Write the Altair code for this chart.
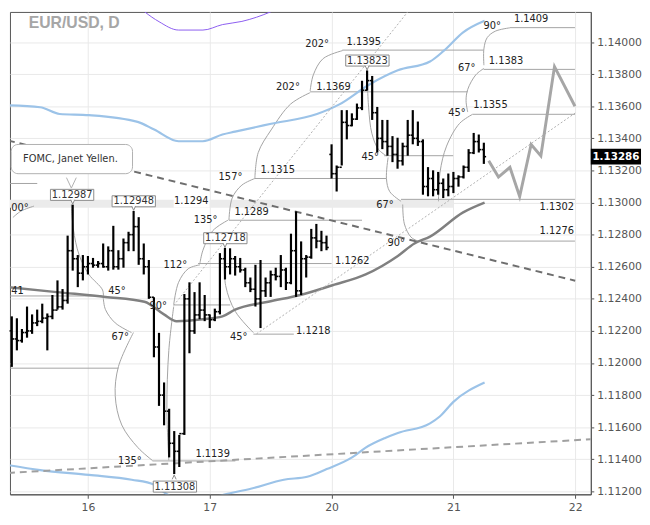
import json
import altair as alt
import pandas as pd

# ---------------- text / axis values ----------------
title_text = "EUR/USD, D"
day_labels = ["16", "17", "20", "21", "22"]
day_positions = [0, 1, 2, 3, 4]
y_tick_values = [1.112, 1.114, 1.116, 1.118, 1.120, 1.122, 1.124, 1.126,
                 1.128, 1.130, 1.132, 1.134, 1.136, 1.138, 1.140]

# ---------------- hourly bars (x = trading-day index + hour/24) ----------------
highs_15 = [1.12291, 1.12279, 1.12212, 1.12352, 1.12303, 1.12333, 1.12370, 1.12309,
            1.12424, 1.12515, 1.12461, 1.12794, 1.12987, 1.12673, 1.12673]
lows_15 = [1.11976, 1.12079, 1.12127, 1.12158, 1.12182, 1.12230, 1.12248, 1.12079,
           1.12273, 1.12333, 1.12333, 1.12370, 1.12576, 1.12473, 1.12515]
closes_15 = [1.12150, 1.12140, 1.12190, 1.12200, 1.12250, 1.12260, 1.12280, 1.12290,
             1.12330, 1.12350, 1.12390, 1.12700, 1.12650, 1.12560, 1.12600]

highs_16 = [1.12667, 1.12655, 1.12636, 1.12745, 1.12727, 1.12855, 1.12703, 1.12776,
            1.12818, 1.12948, 1.12909, 1.12745, 1.12642, 1.12410, 1.12188, 1.11879,
            1.11715, 1.11576, 1.11552, 1.12430, 1.12503, 1.12442, 1.12503, 1.12424]
lows_16 = [1.12552, 1.12594, 1.12594, 1.12594, 1.12576, 1.12582, 1.12582, 1.12594,
           1.12697, 1.12697, 1.12612, 1.12552, 1.12400, 1.12036, 1.11733, 1.11612,
           1.11412, 1.11308, 1.11352, 1.11552, 1.12061, 1.12182, 1.12273, 1.12261]
closes_16 = [1.12620, 1.12610, 1.12620, 1.12600, 1.12700, 1.12600, 1.12650, 1.12750,
             1.12800, 1.12850, 1.12650, 1.12600, 1.12410, 1.12100, 1.11800, 1.11700,
             1.11500, 1.11450, 1.11560, 1.12400, 1.12200, 1.12300, 1.12330, 1.12300]

highs_17 = [1.12303, 1.12339, 1.12685, 1.12718, 1.12715, 1.12667, 1.12655, 1.12594,
            1.12533, 1.12612, 1.12642, 1.12533, 1.12576, 1.12594, 1.12673, 1.12594,
            1.12806, 1.12945, 1.12758, 1.12673, 1.12836, 1.12867, 1.12824, 1.12794]
lows_17 = [1.12218, 1.12261, 1.12303, 1.12521, 1.12552, 1.12545, 1.12564, 1.12473,
           1.12442, 1.12352, 1.12218, 1.12412, 1.12412, 1.12515, 1.12473, 1.12455,
           1.12491, 1.12412, 1.12424, 1.12533, 1.12650, 1.12715, 1.12697, 1.12703]
closes_17 = [1.12270, 1.12320, 1.12650, 1.12600, 1.12650, 1.12600, 1.12580, 1.12500,
             1.12460, 1.12400, 1.12450, 1.12500, 1.12550, 1.12540, 1.12580, 1.12500,
             1.12700, 1.12450, 1.12650, 1.12660, 1.12780, 1.12760, 1.12750, 1.12720]

highs_20 = [1.13363, 1.13231, 1.13576, 1.13576, 1.13556, 1.13617, 1.13759, 1.13823,
            1.13789, 1.13596, 1.13515, 1.13515, 1.13414, 1.13404, 1.13373, 1.13515,
            1.13576, 1.13505, 1.13394, 1.13221, 1.13201, 1.13191, 1.13150, 1.13181]
lows_20 = [1.13150, 1.13069, 1.13231, 1.13394, 1.13475, 1.13515, 1.13576, 1.13698,
           1.13515, 1.13312, 1.13333, 1.13292, 1.13252, 1.13211, 1.13231, 1.13292,
           1.13363, 1.13353, 1.13049, 1.13039, 1.13039, 1.13049, 1.13028, 1.13039]
closes_20 = [1.13180, 1.13220, 1.13500, 1.13480, 1.13520, 1.13590, 1.13700, 1.13760,
             1.13560, 1.13400, 1.13380, 1.13350, 1.13300, 1.13260, 1.13350, 1.13420,
             1.13400, 1.13380, 1.13100, 1.13150, 1.13080, 1.13120, 1.13080, 1.13100]

highs_21 = [1.13191, 1.13170, 1.13231, 1.13333, 1.13434, 1.13424, 1.13373]
lows_21 = [1.13059, 1.13099, 1.13150, 1.13191, 1.13302, 1.13312, 1.13241]
closes_21 = [1.13150, 1.13160, 1.13220, 1.13310, 1.13380, 1.13330, 1.13286]

first_open = 1.12200
monday_open = 1.13300
last_price = 1.13286

# ---------------- indicator lines ----------------
ma_upper_t = [-0.656, -0.392, -0.232, 0.008, 0.408, 0.544, 0.744, 0.944, 1.104, 1.208,
              1.504, 1.88, 2.064, 2.304, 2.544, 2.808, 2.92, 3.08, 3.256]
ma_upper_p = [1.13606, 1.13594, 1.13552, 1.13545, 1.13503, 1.13455, 1.13382, 1.13382,
              1.13424, 1.13442, 1.13491, 1.13552, 1.13612, 1.13733, 1.13824, 1.13879,
              1.13945, 1.14061, 1.14133]
ma_lower_t = [-0.656, -0.392, 0.008, 0.36, 0.544, 0.648, 0.864, 1.128, 1.344, 1.608,
              1.8, 1.96, 2.168, 2.28, 2.44, 2.544, 2.808, 2.888, 3.0, 3.256]
ma_lower_p = [1.11364, 1.11333, 1.11303, 1.11273, 1.11242, 1.11182, 1.11133, 1.11182,
              1.11218, 1.11273, 1.11291, 1.11339, 1.11412, 1.11473, 1.11533, 1.11564,
              1.11624, 1.11667, 1.11758, 1.11879]
ma_gray_t = [-0.656, -0.256, 0.144, 0.464, 0.624, 0.728, 0.944, 1.104, 1.208, 1.48,
             1.744, 2.008, 2.28, 2.544, 2.68, 2.808, 3.08, 3.256]
ma_gray_p = [1.12473, 1.12442, 1.12412, 1.12382, 1.12303, 1.12261, 1.12273, 1.12291,
             1.12333, 1.12382, 1.12424, 1.12485, 1.12552, 1.12667, 1.12745, 1.12788,
             1.12939, 1.13000]
purple_t = [0.448, 0.464, 0.584, 0.744, 0.944, 1.104, 1.264, 1.504, 1.584]
purple_p = [1.14200, 1.14190, 1.14127, 1.14075, 1.14075, 1.14109, 1.14129, 1.14190, 1.14218]

forecast_t = [3.29, 3.37, 3.464, 3.544, 3.638, 3.718, 3.83, 3.998]
forecast_p = [1.13261, 1.13159, 1.13220, 1.13038, 1.13362, 1.13291, 1.13847, 1.13600]

trend_dark_t = [-0.656, 4.0]
trend_dark_p = [1.13387, 1.12513]
trend_light_t = [-0.656, 4.128]
trend_light_p = [1.11315, 1.11525]
dotted_a_t = [0.704, 2.632]
dotted_a_p = [1.12359, 1.14195]
dotted_b_t = [1.384, 4.0]
dotted_b_p = [1.12182, 1.13558]

# ---------------- horizontal levels ----------------
level_p = [1.1409, 1.1395, 1.1383, 1.1369, 1.1355, 1.13292, 1.1315, 1.13119, 1.1302,
           1.1289, 1.1276, 1.1262, 1.12418, 1.12362, 1.1218, 1.11968, 1.1139]
level_t1 = [3.464, 2.088, 3.248, 1.824, 3.158, 2.432, 1.370, -0.656, 2.570,
            1.158, 2.744, 0.904, -0.656, 0.704, 1.358, -0.656, 0.530]
level_t2 = [3.998, 3.248, 3.998, 3.118, 3.998, 2.998, 2.450, -0.416, 3.998,
            2.250, 3.998, 2.000, 0.118, 1.168, 1.690, 0.250, 1.210]

level_label_text = ["1.1409", "1.1395", "1.1383", "1.1369", "1.1355", "1.1315", "1.1294",
                    "1.1289", "1.1302", "1.1276", "1.1262", "1.1218", "1.1139"]
level_label_t = [3.638, 2.264, 3.432, 2.016, 3.304, 1.558, 0.848, 1.344, 3.848, 3.848,
                 2.170, 1.850, 1.024]
level_label_p = [1.14144, 1.14002, 1.13883, 1.13719, 1.13608, 1.13204, 1.13008, 1.12938,
                 1.12972, 1.12820, 1.12635, 1.12200, 1.11432]

# partial labels visible at the left edge
edge_label_text = ["41", "00°"]
edge_label_t = [-0.63, -0.63]
edge_label_p = [1.12448, 1.12964]

band_t = [-0.656, 2.998]
band_p = [1.12968, 1.13018]
band_label_box_t = [0.704, 0.998]
band_label_box_p = [1.12970, 1.13040]

angle_text = ["90°", "202°", "202°", "67°", "45°", "157°", "135°", "45°", "67°", "90°",
              "112°", "45°", "90°", "67°", "45°", "135°"]
angle_t = [3.318, 1.882, 1.642, 3.110, 3.030, 1.170, 0.966, 2.318, 2.438, 2.530,
           0.718, 0.238, 0.576, 0.264, 1.238, 0.344]
angle_p = [1.14099, 1.13988, 1.13719, 1.13841, 1.13558, 1.13159, 1.12891, 1.13281,
           1.12982, 1.12750, 1.12608, 1.12447, 1.12356, 1.12159, 1.12159, 1.11392]

box_text = ["1.12987", "1.12948", "1.12718", "1.13823", "1.11308"]
box_t = [-0.130, 0.376, 1.128, 2.294, 0.714]
box_p = [1.13048, 1.13008, 1.12778, 1.13885, 1.11230]
ptr_t = [-0.125, 0.375, 1.125, 2.2917, 0.708]
ptr_p = [1.13003, 1.12964, 1.12733, 1.13839, 1.11290]
ptr_dir = ["down", "down", "down", "down", "up"]

callout_text = "FOMC, Janet Yellen."
callout_t = [-0.630, 0.366]
callout_p = [1.13180, 1.13362]
callout_text_pos = (-0.144, 1.13273)
callout_ptr_pos = (-0.136, 1.13121)

# ---------------- Gann-style arcs ----------------
arcs = [
    ([-0.136, -0.12, -0.072, 0.008, 0.12, 0.1264], [1.12988, 1.12836, 1.12673, 1.12552, 1.12455, 1.12402]),
    ([0.1264, 0.144, 0.224, 0.3576], [1.12402, 1.12333, 1.12250, 1.12190]),
    ([0.3736, 0.2504, 0.224, 0.2776, 0.4104, 0.5304], [1.12190, 1.11978, 1.11796, 1.11614, 1.11473, 1.11392]),
    ([0.664, 0.648, 0.664, 0.704], [1.11394, 1.11715, 1.12079, 1.12352]),
    ([0.704, 0.744, 0.824, 0.920], [1.12364, 1.12503, 1.12588, 1.12612]),
    ([0.92, 0.944, 1.024, 1.152], [1.12624, 1.12703, 1.12824, 1.12891]),
    ([1.1576, 1.184, 1.264, 1.3704], [1.12891, 1.13028, 1.13109, 1.13150]),
    ([1.3704, 1.3976, 1.504, 1.664, 1.824], [1.13150, 1.13311, 1.13453, 1.13614, 1.13685]),
    ([1.824, 1.8504, 1.9304, 2.0904], [1.13695, 1.13796, 1.13897, 1.13947]),
    ([2.2904, 2.304, 2.3304, 2.384, 2.4504], [1.13826, 1.13594, 1.13432, 1.13332, 1.13291]),
    ([2.464, 2.4504, 2.4776, 2.5704], [1.13281, 1.13150, 1.13068, 1.13008]),
    ([2.584, 2.5976, 2.6504, 2.704, 2.744], [1.12988, 1.12867, 1.12786, 1.12762, 1.12756]),
    ([2.8776, 2.8904, 2.944, 3.0504, 3.1576], [1.13008, 1.13190, 1.13352, 1.13493, 1.13550]),
    ([3.1176, 3.104, 3.1176, 3.184, 3.2504], [1.13564, 1.13635, 1.13705, 1.13796, 1.13836]),
    ([3.2504, 3.2504, 3.2776, 3.344, 3.464], [1.13856, 1.13958, 1.14028, 1.14068, 1.14089]),
    ([1.12, 1.1304, 1.2104, 1.3576], [1.12715, 1.12483, 1.12321, 1.12190]),
    ([-0.616, -0.5496, -0.4424], [1.12907, 1.12947, 1.12978]),
]

# ---------------- build tables ----------------
sessions = [(-1, 9, highs_15, lows_15, closes_15), (0, 0, highs_16, lows_16, closes_16),
            (1, 0, highs_17, lows_17, closes_17), (2, 0, highs_20, lows_20, closes_20),
            (3, 0, highs_21, lows_21, closes_21)]
rows = []
for d, h0, H, L, C in sessions:
    for i, (hh, ll, cc) in enumerate(zip(H, L, C)):
        rows.append({"t": d + (h0 + i) / 24.0, "h": hh, "l": ll, "c": cc, "day": d, "hour": h0 + i})
bars = pd.DataFrame(rows)
opens = [first_open] + list(bars["c"][:-1])
bars["o"] = opens
bars.loc[(bars["day"] == 2) & (bars["hour"] == 0), "o"] = monday_open

X_DOM = [-0.64, 4.128]
Y_DOM = [1.111818, 1.141879]
W, H_ = 590, 490
ux = (X_DOM[1] - X_DOM[0]) / W
uy = (Y_DOM[1] - Y_DOM[0]) / H_
bars["tl"] = bars["t"] - 2.3 * ux
bars["tr"] = bars["t"] + 2.3 * ux

XS = alt.Scale(domain=X_DOM, nice=False, zero=False)
YS = alt.Scale(domain=Y_DOM, nice=False, zero=False)
label_expr = json.dumps(day_labels) + "[datum.value]"
x_axis = alt.Axis(values=day_positions, labelExpr=label_expr, grid=True, gridColor="#e9e9e9",
                  domainColor="#555555", tickColor="#555555", labelColor="#555555",
                  labelFont="DejaVu Sans", labelFontSize=11, tickSize=4, labelPadding=3, title=None)
y_axis = alt.Axis(orient="right", values=y_tick_values, format=".5f", grid=True, gridColor="#e9e9e9",
                  domainColor="#555555", tickColor="#555555", labelColor="#555555",
                  labelFont="DejaVu Sans", labelFontSize=11, tickSize=3, labelPadding=3, title=None)


def X(f):
    return alt.X(f, type="quantitative", scale=XS, axis=x_axis)


def Y(f):
    return alt.Y(f, type="quantitative", scale=YS, axis=y_axis)


def line_df(ts, ps):
    return pd.DataFrame({"t": ts, "p": ps, "i": list(range(len(ts)))})


layers = []

# band
band = pd.DataFrame({"t": [band_t[0]], "t2": [band_t[1]], "p": [band_p[0]], "p2": [band_p[1]]})
layers.append(alt.Chart(band).mark_rect(color="#ebebeb", clip=True).encode(
    x=X("t"), x2="t2", y=Y("p"), y2="p2"))

# level lines
lv = pd.DataFrame({"t": level_t1, "t2": level_t2, "p": level_p})
layers.append(alt.Chart(lv).mark_rule(color="#a3a3a3", strokeWidth=1, clip=True).encode(
    x=X("t"), x2="t2", y=Y("p")))

# arcs
arc_rows = []
for k, (ts, ps) in enumerate(arcs):
    for i, (tt, pp) in enumerate(zip(ts, ps)):
        arc_rows.append({"arc": k, "i": i, "t": tt, "p": pp})
arc_df = pd.DataFrame(arc_rows)
layers.append(alt.Chart(arc_df).mark_line(color="#a3a3a3", strokeWidth=1, interpolate="catmull-rom",
                                          clip=True).encode(
    x=X("t"), y=Y("p"), detail="arc:N", order="i:Q"))

# moving averages
layers.append(alt.Chart(line_df(purple_t, purple_p)).mark_line(color="#8b5cf0", strokeWidth=1,
                                                               interpolate="monotone", clip=True).encode(
    x=X("t"), y=Y("p"), order="i:Q"))
layers.append(alt.Chart(line_df(ma_upper_t, ma_upper_p)).mark_line(color="#9cc3e8", strokeWidth=2.2,
                                                                   interpolate="monotone", clip=True).encode(
    x=X("t"), y=Y("p"), order="i:Q"))
layers.append(alt.Chart(line_df(ma_lower_t, ma_lower_p)).mark_line(color="#9cc3e8", strokeWidth=2.2,
                                                                   interpolate="monotone", clip=True).encode(
    x=X("t"), y=Y("p"), order="i:Q"))
layers.append(alt.Chart(line_df(ma_gray_t, ma_gray_p)).mark_line(color="#808080", strokeWidth=2.5,
                                                                  interpolate="monotone", clip=True).encode(
    x=X("t"), y=Y("p"), order="i:Q"))

# trend lines
layers.append(alt.Chart(line_df(trend_dark_t, trend_dark_p)).mark_line(
    color="#6e6e6e", strokeWidth=2, strokeDash=[7, 5], clip=True).encode(x=X("t"), y=Y("p"), order="i:Q"))
layers.append(alt.Chart(line_df(trend_light_t, trend_light_p)).mark_line(
    color="#a0a0a0", strokeWidth=2, strokeDash=[7, 5], clip=True).encode(x=X("t"), y=Y("p"), order="i:Q"))
layers.append(alt.Chart(line_df(dotted_a_t, dotted_a_p)).mark_line(
    color="#b0b0b0", strokeWidth=1, strokeDash=[2, 2], clip=True).encode(x=X("t"), y=Y("p"), order="i:Q"))
layers.append(alt.Chart(line_df(dotted_b_t, dotted_b_p)).mark_line(
    color="#b0b0b0", strokeWidth=1, strokeDash=[2, 2], clip=True).encode(x=X("t"), y=Y("p"), order="i:Q"))

# bars
layers.append(alt.Chart(bars).mark_rule(color="#000000", strokeWidth=2.2).encode(
    x=X("t"), y=Y("l"), y2="h"))
layers.append(alt.Chart(bars).mark_rule(color="#000000", strokeWidth=1.6).encode(
    x=X("tl"), x2="t", y=Y("o")))
layers.append(alt.Chart(bars).mark_rule(color="#000000", strokeWidth=1.6).encode(
    x=X("t"), x2="tr", y=Y("c")))

# forecast path
layers.append(alt.Chart(line_df(forecast_t, forecast_p)).mark_line(
    color="#a6a6a6", strokeWidth=3, clip=True).encode(x=X("t"), y=Y("p"), order="i:Q"))

# band label white box
blb = pd.DataFrame({"t": [band_label_box_t[0]], "t2": [band_label_box_t[1]],
                    "p": [band_label_box_p[0]], "p2": [band_label_box_p[1]]})
layers.append(alt.Chart(blb).mark_rect(color="#ffffff").encode(x=X("t"), x2="t2", y=Y("p"), y2="p2"))

# level labels
ll_df = pd.DataFrame({"t": level_label_t, "p": level_label_p, "txt": level_label_text})
layers.append(alt.Chart(ll_df).mark_text(font="DejaVu Sans", fontSize=10, color="#222222",
                                         align="center", baseline="middle").encode(
    x=X("t"), y=Y("p"), text="txt:N"))
el_df = pd.DataFrame({"t": edge_label_t, "p": edge_label_p, "txt": edge_label_text})
layers.append(alt.Chart(el_df).mark_text(font="DejaVu Sans", fontSize=10, color="#222222",
                                         align="left", baseline="middle").encode(
    x=X("t"), y=Y("p"), text="txt:N"))

# angle labels
an_df = pd.DataFrame({"t": angle_t, "p": angle_p, "txt": angle_text})
layers.append(alt.Chart(an_df).mark_text(font="DejaVu Sans", fontSize=10, color="#222222",
                                         align="center", baseline="middle").encode(
    x=X("t"), y=Y("p"), text="txt:N"))

# boxed price labels
bw, bh = 22 * ux, 5.6 * uy
bx = pd.DataFrame({"t": [v - bw for v in box_t], "t2": [v + bw for v in box_t],
                   "p": [v - bh for v in box_p], "p2": [v + bh for v in box_p],
                   "tc": box_t, "pc": box_p, "txt": box_text})
layers.append(alt.Chart(bx).mark_rect(fill="#ffffff", stroke="#8a8a8a", strokeWidth=1).encode(
    x=X("t"), x2="t2", y=Y("p"), y2="p2"))
layers.append(alt.Chart(bx).mark_text(font="DejaVu Sans", fontSize=10, color="#333333",
                                      align="center", baseline="middle").encode(
    x=X("tc"), y=Y("pc"), text="txt:N"))
pt = pd.DataFrame({"t": ptr_t, "p": ptr_p, "dir": ptr_dir})
layers.append(alt.Chart(pt[pt["dir"] == "down"]).mark_point(
    shape="M-0.5,-0.6L0,0.5L0.5,-0.6", size=64, filled=True, fill="#ffffff", stroke="#8a8a8a",
    strokeWidth=1, opacity=1).encode(x=X("t"), y=Y("p")))
layers.append(alt.Chart(pt[pt["dir"] == "up"]).mark_point(
    shape="M-0.5,0.6L0,-0.5L0.5,0.6", size=64, filled=True, fill="#ffffff", stroke="#8a8a8a",
    strokeWidth=1, opacity=1).encode(x=X("t"), y=Y("p")))

# FOMC callout
cb = pd.DataFrame({"t": [callout_t[0]], "t2": [callout_t[1]], "p": [callout_p[0]], "p2": [callout_p[1]]})
layers.append(alt.Chart(cb).mark_rect(fill="#ffffff", stroke="#b0b0b0", strokeWidth=1,
                                      cornerRadius=7, clip=True).encode(
    x=X("t"), x2="t2", y=Y("p"), y2="p2"))
cp = pd.DataFrame({"t": [callout_ptr_pos[0]], "p": [callout_ptr_pos[1]]})
layers.append(alt.Chart(cp).mark_point(shape="M-0.5,-0.56L0,0.5L0.5,-0.56", size=400, filled=True,
                                       fill="#ffffff", stroke="#b0b0b0", strokeWidth=1, opacity=1).encode(
    x=X("t"), y=Y("p")))
ct = pd.DataFrame({"t": [callout_text_pos[0]], "p": [callout_text_pos[1]], "txt": [callout_text]})
layers.append(alt.Chart(ct).mark_text(font="DejaVu Sans", fontSize=10, color="#333333",
                                      align="center", baseline="middle").encode(
    x=X("t"), y=Y("p"), text="txt:N"))

# title
tt = pd.DataFrame({"txt": [title_text]})
layers.append(alt.Chart(tt).mark_text(font="Liberation Sans", fontSize=16, fontWeight="bold",
                                      color="#a6a6a6", align="left", baseline="middle").encode(
    x=alt.value(19), y=alt.value(11), text="txt:N"))

# current price marker on the axis
lp = pd.DataFrame({"p": [last_price - 8 * uy], "p2": [last_price + 8 * uy], "pc": [last_price],
                   "txt": ["%.5f" % last_price]})
layers.append(alt.Chart(lp).mark_rect(color="#000000").encode(
    x=alt.value(590), x2=alt.value(641), y=Y("p"), y2="p2"))
layers.append(alt.Chart(lp).mark_text(font="DejaVu Sans", fontSize=10.5, fontWeight="bold",
                                      color="#ffffff", align="center", baseline="middle").encode(
    x=alt.value(615.5), y=Y("pc"), text="txt:N"))

chart = alt.layer(*layers).properties(width=W, height=H_, padding=0).configure_view(
    stroke="#555555", strokeWidth=1)

chart.save("out.html", embed_options={"renderer": "svg", "actions": False})
